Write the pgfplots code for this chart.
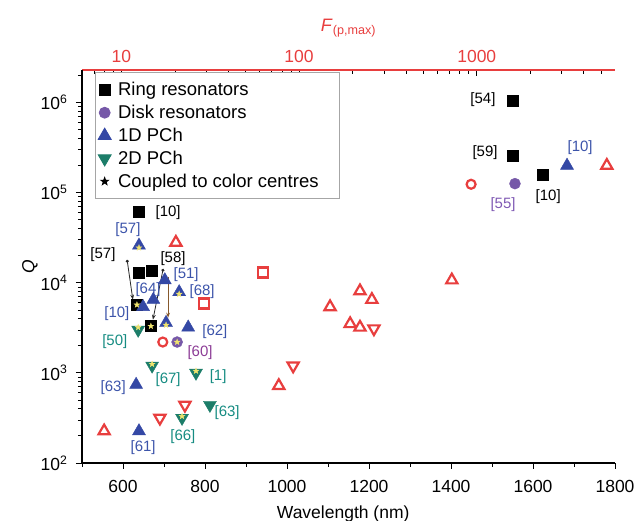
\documentclass[border=0pt]{standalone}
\usepackage{fontspec}
\setmainfont{Liberation Sans}
\usepackage{pgfplots}
\pgfplotsset{compat=1.18}
\usetikzlibrary{arrows.meta}

\definecolor{diskc}{RGB}{118,88,168}
\definecolor{oneD}{RGB}{52,72,165}
\definecolor{twoD}{RGB}{28,125,105}
\definecolor{redc}{RGB}{232,62,62}
\definecolor{starc}{RGB}{240,228,110}
\definecolor{lblblue}{RGB}{60,84,170}
\definecolor{lblteal}{RGB}{22,140,130}
\definecolor{lblpurple}{RGB}{140,60,150}
\definecolor{lbldisk}{RGB}{128,90,180}

% filled five-pointed star
\pgfdeclareplotmark{fstar}{%
  \pgfpathmoveto{\pgfpointpolar{90}{\pgfplotmarksize}}%
  \pgfpathlineto{\pgfpointpolar{126}{0.4\pgfplotmarksize}}%
  \pgfpathlineto{\pgfpointpolar{162}{\pgfplotmarksize}}%
  \pgfpathlineto{\pgfpointpolar{198}{0.4\pgfplotmarksize}}%
  \pgfpathlineto{\pgfpointpolar{234}{\pgfplotmarksize}}%
  \pgfpathlineto{\pgfpointpolar{270}{0.4\pgfplotmarksize}}%
  \pgfpathlineto{\pgfpointpolar{306}{\pgfplotmarksize}}%
  \pgfpathlineto{\pgfpointpolar{342}{0.4\pgfplotmarksize}}%
  \pgfpathlineto{\pgfpointpolar{18}{\pgfplotmarksize}}%
  \pgfpathlineto{\pgfpointpolar{54}{0.4\pgfplotmarksize}}%
  \pgfpathclose
  \pgfusepathqfillstroke
}

\tikzset{lab/.style={font=\fontsize{15}{17}\selectfont, inner sep=0pt}}

\begin{document}
\begin{tikzpicture}
\path[use as bounding box] (0,0) rectangle (636pt,521pt);

% top axis: F_(p,max)
\begin{axis}[
  at={(82pt,58pt)}, anchor=south west,
  width=533pt, height=393pt, scale only axis,
  xmode=log, xmin=6, xmax=6000, ymin=0, ymax=1,
  axis x line*=top, hide y axis,
  axis line style={draw=redc, line width=2pt},
  xtick={10,100,1000}, xticklabels={10,100,1000},
  minor xtick={6,7,8,9,20,30,40,50,60,70,80,90,200,300,400,500,600,700,800,900,2000,3000,4000,5000},
  tick align=inside, tick style={black, line width=0.6pt},
  major tick length=6pt, minor tick length=4pt,
  xticklabel style={text=redc, font=\fontsize{17.5}{20}\selectfont, yshift=4pt},
  xlabel={\textit{F}\textsubscript{(p,max)}},
  xlabel style={text=redc, font=\fontsize{18}{21}\selectfont,
    at={(axis description cs:0.5,1)}, anchor=center, yshift=42pt},
]
\end{axis}

\begin{axis}[
  at={(82pt,58pt)}, anchor=south west,
  width=533pt, height=393pt, scale only axis,
  xmin=500, xmax=1800, ymode=log, ymin=100, ymax=2.3e6,
  axis x line*=bottom, axis y line*=left,
  axis line style={line width=1.2pt},
  xtick={600,800,1000,1200,1400,1600,1800},
  xticklabels={600,800,1000,1200,1400,1600,1800},
  minor xtick={500,700,900,1100,1300,1500,1700},
  ytick={1e2,1e3,1e4,1e5,1e6},
  yticklabels={10\textsuperscript{2},10\textsuperscript{3},10\textsuperscript{4},10\textsuperscript{5},10\textsuperscript{6}},
  minor ytick={200,300,400,500,600,700,800,900,2000,3000,4000,5000,6000,7000,8000,9000,20000,30000,40000,50000,60000,70000,80000,90000,200000,300000,400000,500000,600000,700000,800000,900000,2000000},
  tick align=outside, tick style={black, line width=0.8pt},
  major tick length=6pt, minor tick length=4pt,
  tick label style={font=\fontsize{17.5}{20}\selectfont},
  xticklabel style={yshift=-8pt},
  yticklabel style={xshift=-5pt},
  xlabel={Wavelength (nm)}, ylabel={\textit{Q}},
  xlabel style={font=\fontsize{17.5}{20}\selectfont,
    at={(axis description cs:0.49,0)}, anchor=center, yshift=-51pt},
  ylabel style={font=\fontsize{17.5}{20}\selectfont,
    at={(axis description cs:-0.0976,0.5)}, anchor=center},
  legend style={at={(rel axis cs:0.024,0.995)}, anchor=north west,
    draw=gray!70, line width=0.8pt, fill=white,
    font=\fontsize{18.5}{21}\selectfont, row sep=4pt,
    inner xsep=3pt, inner ysep=8pt},
  legend cell align=left,
  legend image code/.code={\draw[#1] plot coordinates {(6pt,0pt)}; \path (0pt,0pt) (17pt,0pt);},
  clip=false,
]
% red hollow markers (F_(p,max) values)
\addplot[only marks, mark=triangle*, mark size=6.5pt, mark options={draw=redc, fill=white, line width=2.2pt}, forget plot] coordinates {
  (729,2.8e4) (554,226) (980,720) (1105,5.4e3) (1178,8.1e3) (1207,6.5e3)
  (1154,3.5e3) (1178,3.2e3) (1402,1.07e4) (1780,2.0e5)
};
\addplot[only marks, mark=triangle*, mark size=6.5pt, mark options={draw=redc, fill=white, line width=2.2pt, rotate=180}, forget plot] coordinates {
  (1212,3.1e3) (1015,1.2e3) (690,316) (751,440)
};
\addplot[only marks, mark=square*, mark size=5pt, mark options={draw=redc, fill=white, line width=2.2pt}, forget plot] coordinates {
  (941,1.3e4) (798,5.9e3)
};
\addplot[only marks, mark=*, mark size=4.5pt, mark options={draw=redc, fill=white, line width=2.2pt}, forget plot] coordinates {
  (697,2.2e3) (1449,1.24e5)
};

% ring resonators
\addplot[only marks, mark=square*, mark size=5.5pt, black] coordinates {
  (1550,1.05e6) (1550,2.6e5) (1624,1.6e5) (639,6.1e4) (639,1.29e4) (671,1.36e4)
  (634,5.7e3) (668,3.3e3)
};
\addlegendentry{Ring resonators}
% disk resonators
\addplot[only marks, mark=*, mark size=5.5pt, draw=diskc, fill=diskc] coordinates {
  (1556,1.26e5) (732,2.2e3)
};
\addlegendentry{Disk resonators}
% 1D photonic crystal
\addplot[only marks, mark=triangle*, mark size=7.5pt, draw=oneD, fill=oneD] coordinates {
  (639,2.6e4) (702,1.07e4) (737,7.9e3) (674,6.5e3) (649,5.4e3) (705,3.6e3)
  (759,3.2e3) (632,740) (639,226) (1683,2.0e5)
};
\addlegendentry{1D PCh}
% 2D photonic crystal
\addplot[only marks, mark=triangle*, mark size=7.5pt, draw=twoD, fill=twoD, mark options={rotate=180}] coordinates {
  (637,3.0e3) (671,1.2e3) (778,1.0e3) (812,440) (744,316)
};
\addlegendentry{2D PCh}
% coupled to colour centres
\addlegendimage{only marks, mark=fstar, mark size=4pt, black}
\addlegendentry{Coupled to color centres\kern16pt}
\addplot[only marks, mark=fstar, mark size=3pt, draw=starc, fill=starc, forget plot] coordinates {
  (639,2.45e4) (737,7.5e3) (705,3.4e3) (732,2.2e3) (637,3.2e3) (671,1.25e3)
  (778,1.05e3) (744,330) (634,5.7e3) (668,3.3e3)
};

% arrows
\draw[{Circle[length=3pt]}-{Stealth[length=5pt]}, line width=0.8pt, black!85] (axis cs:610,1.8e4) -- (axis cs:624,6.5e3);
\draw[{Circle[length=3pt]}-{Stealth[length=5pt]}, line width=0.8pt, black!85] (axis cs:698,1.43e4) -- (axis cs:673,3.9e3);
\draw[-{Stealth[length=5pt]}, line width=0.8pt, brown!70!black] (axis cs:710,1.17e4) -- (axis cs:710,4.1e3);

% labels
\node[lab] at (axis cs:1478,1.07e6) {[54]};
\node[lab] at (axis cs:1483,2.77e5) {[59]};
\node[lab] at (axis cs:1637,9.1e4) {[10]};
\node[lab] at (axis cs:710,6.0e4) {[10]};
\node[lab] at (axis cs:551,2.04e4) {[57]};
\node[lab] at (axis cs:722,1.85e4) {[58]};
\node[lab, text=lblblue] at (axis cs:612,3.9e4) {[57]};
\node[lab, text=lblblue] at (axis cs:754,1.23e4) {[51]};
\node[lab, text=lblblue] at (axis cs:793,7.9e3) {[68]};
\node[lab, text=lblblue] at (axis cs:661,8.5e3) {[64]};
\node[lab, text=lblblue] at (axis cs:585,4.6e3) {[10]};
\node[lab, text=lblblue] at (axis cs:824,2.9e3) {[62]};
\node[lab, text=lblblue] at (axis cs:576,680) {[63]};
\node[lab, text=lblblue] at (axis cs:649,150) {[61]};
\node[lab, text=lblblue] at (axis cs:1715,3.16e5) {[10]};
\node[lab, text=lblpurple] at (axis cs:788,1.7e3) {[60]};
\node[lab, text=lbldisk] at (axis cs:1527,7.4e4) {[55]};
\node[lab, text=lblteal] at (axis cs:580,2.2e3) {[50]};
\node[lab, text=lblteal] at (axis cs:710,835) {[67]};
\node[lab, text=lblteal] at (axis cs:832,910) {[1]};
\node[lab, text=lblteal] at (axis cs:854,360) {[63]};
\node[lab, text=lblteal] at (axis cs:746,194) {[66]};
\end{axis}
\end{tikzpicture}
\end{document}
